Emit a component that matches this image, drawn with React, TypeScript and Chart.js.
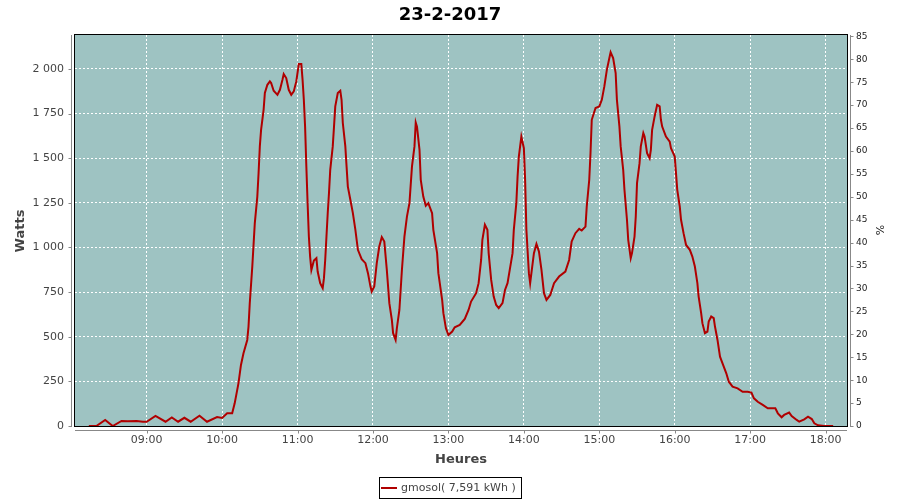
import React, { useEffect, useRef } from "react";
import { Chart, registerables } from "chart.js";

Chart.register(...registerables);

const TITLE = "23-2-2017";
const X_TITLE = "Heures";
const Y_TITLE = "Watts";
const Y2_TITLE = "%";
const LEGEND_LABEL = "gmosol( 7,591 kWh )";

// minutes since midnight
const times: number[] = [
  494, 500, 507, 513, 520, 525, 532, 537, 540, 547, 555, 560, 565, 570, 575, 582, 588, 596, 600, 604,
  608, 610, 613, 615, 617, 620, 621, 622, 624, 626, 628, 629, 630, 631, 633, 634, 636, 638, 639, 641,
  644, 646, 648, 649, 651, 653, 655, 657, 659, 661, 663, 664, 665, 666, 667, 668, 669, 670, 671, 673,
  675, 676, 678, 680, 681, 682, 683, 684, 685, 686, 688, 689, 690, 692, 694, 695, 696, 698, 699, 700,
  702, 704, 706, 708, 711, 714, 716, 718, 719, 721, 723, 725, 727, 729, 731, 733, 735, 736, 738, 739,
  741, 743, 745, 747, 749, 751, 753, 754, 755, 757, 758, 760, 762, 764, 767, 768, 771, 772, 775, 776,
  778, 780, 783, 785, 789, 793, 796, 798, 802, 804, 806, 807, 809, 811, 812, 814, 816, 818, 820, 823,
  825, 827, 829, 831, 832, 834, 835, 836, 838, 840, 841, 842, 844, 845, 846, 848, 850, 852, 854, 856,
  858, 861, 864, 868, 873, 876, 878, 881, 884, 886, 889, 890, 892, 893, 894, 897, 900, 902, 904, 906,
  908, 909, 911, 913, 914, 916, 917, 919, 920, 922, 923, 925, 926, 928, 929, 930, 932, 933, 935, 936,
  938, 940, 941, 942, 944, 946, 948, 949, 950, 953, 956, 957, 960, 961, 962, 964, 965, 967, 969, 972,
  974, 976, 978, 979, 981, 982, 984, 986, 987, 989, 991, 992, 994, 996, 998, 1001, 1003, 1006, 1010, 1014,
  1018, 1021, 1023, 1026, 1030, 1034, 1040, 1042, 1045, 1047, 1051, 1053, 1057, 1059, 1063, 1066, 1069, 1071, 1074, 1079,
  1086,
];

const watts: number[] = [
  0, 0, 34, 0, 28, 26, 28, 24, 24, 56, 24, 48, 24, 46, 24, 58, 24, 50, 45, 71,
  71, 127, 239, 342, 407, 482, 557, 688, 893, 1136, 1285, 1416, 1566, 1659, 1771, 1865, 1911, 1930, 1921, 1878,
  1855, 1883, 1939, 1971, 1949, 1883, 1855, 1874, 1930, 2027, 2027, 1939, 1827, 1677, 1453, 1248, 1061, 949, 874, 927,
  940, 865, 800, 772, 828, 930, 1061, 1192, 1304, 1435, 1566, 1677, 1790, 1865, 1878, 1827, 1697, 1566, 1453, 1341,
  1267, 1192, 1099, 987, 934, 912, 856, 781, 753, 781, 912, 1005, 1058, 1033, 874, 688, 594, 520, 482, 548,
  650, 874, 1061, 1173, 1248, 1453, 1566, 1700, 1677, 1547, 1379, 1285, 1233, 1248, 1192, 1099, 968, 856, 706, 632,
  548, 510, 529, 553, 566, 600, 650, 697, 744, 800, 930, 1043, 1127, 1099, 968, 818, 725, 678, 660, 688,
  762, 800, 884, 968, 1099, 1248, 1397, 1509, 1621, 1556, 1379, 1099, 856, 800, 856, 968, 1020, 977, 874, 744,
  706, 734, 800, 837, 865, 930, 1033, 1080, 1104, 1095, 1117, 1229, 1379, 1528, 1715, 1781, 1790, 1827, 1902, 1995,
  2061, 2093, 2061, 1977, 1827, 1677, 1566, 1435, 1323, 1155, 1043, 940, 968, 1061, 1173, 1360, 1472, 1566, 1641, 1621,
  1528, 1500, 1547, 1659, 1734, 1799, 1790, 1715, 1677, 1621, 1593, 1556, 1509, 1416, 1323, 1229, 1155, 1080, 1014, 987,
  949, 893, 800, 725, 632, 576, 520, 529, 585, 613, 604, 557, 482, 388, 351, 295, 248, 220, 211, 192,
  192, 187, 155, 136, 118, 99, 99, 71, 49, 62, 75, 56, 34, 24, 37, 52, 39, 15, 4, 0,
  0,
];

const xTickMinutes: number[] = [540, 600, 660, 720, 780, 840, 900, 960, 1020, 1080];
const yTicks: number[] = [0, 250, 500, 750, 1000, 1250, 1500, 1750, 2000];
const y2Ticks: number[] = [0, 5, 10, 15, 20, 25, 30, 35, 40, 45, 50, 55, 60, 65, 70, 75, 80, 85];

const X_MIN = 483;
const X_MAX = 1097;
const Y_MAX = 2190;
const Y2_MAX = 85.3;

const LINE_COLOR = "#b00000";
const PLOT_BG = "#9ec3c2";
const AXIS_GRAY = "#888888";
const TEXT = "#444444";
const FONT = "'DejaVu Sans', sans-serif";

function fmtTime(m: number): string {
  const h = Math.floor(m / 60);
  const mm = m % 60;
  return String(h).padStart(2, "0") + ":" + String(mm).padStart(2, "0");
}
function fmtThousands(v: number): string {
  return String(v).replace(/\B(?=(\d{3})+(?!\d))/g, " ");
}

const decorPlugin = {
  id: "decor",
  beforeDraw(chart: any) {
    const { ctx, chartArea: a } = chart;
    ctx.save();
    ctx.fillStyle = "#ffffff";
    ctx.fillRect(0, 0, chart.width, chart.height);
    ctx.fillStyle = PLOT_BG;
    ctx.fillRect(a.left, a.top, a.right - a.left, a.bottom - a.top);
    ctx.restore();
  },
  afterDraw(chart: any) {
    const { ctx, chartArea: a, scales } = chart;
    ctx.save();
    // plot border
    ctx.strokeStyle = "#000000";
    ctx.lineWidth = 1;
    ctx.strokeRect(Math.round(a.left) - 0.5, Math.round(a.top) - 0.5, Math.round(a.right - a.left) + 1, Math.round(a.bottom - a.top) + 1);

    // offset axis lines
    ctx.strokeStyle = AXIS_GRAY;
    ctx.beginPath();
    const lx = Math.round(a.left) - 3.5;
    ctx.moveTo(lx, a.top);
    ctx.lineTo(lx, a.bottom + 1);
    for (const v of yTicks) {
      const y = Math.round(scales.y.getPixelForValue(v)) + 0.5;
      ctx.moveTo(lx - 3, y);
      ctx.lineTo(lx, y);
    }
    const rx = Math.round(a.right) + 3.5;
    ctx.moveTo(rx, a.top);
    ctx.lineTo(rx, a.bottom + 1);
    for (const v of y2Ticks) {
      const y = Math.round(scales.y1.getPixelForValue(v)) + 0.5;
      ctx.moveTo(rx, y);
      ctx.lineTo(rx + 3, y);
    }
    const by = Math.round(a.bottom) + 4.5;
    ctx.moveTo(a.left, by);
    ctx.lineTo(a.right, by);
    for (const v of xTickMinutes) {
      const x = Math.round(scales.x.getPixelForValue(v)) + 0.5;
      ctx.moveTo(x, by);
      ctx.lineTo(x, by + 3);
    }
    ctx.stroke();

    // title
    ctx.fillStyle = "#000000";
    ctx.font = "bold 18px " + FONT;
    ctx.textAlign = "center";
    ctx.textBaseline = "middle";
    ctx.fillText(TITLE, 450, 15);

    // axis titles
    ctx.fillStyle = TEXT;
    ctx.font = "bold 13px " + FONT;
    ctx.fillText(X_TITLE, 461, 460);
    ctx.save();
    ctx.translate(21, 231);
    ctx.rotate(-Math.PI / 2);
    ctx.fillText(Y_TITLE, 0, 0);
    ctx.restore();
    ctx.save();
    ctx.fillStyle = "#222222";
    ctx.font = "11px " + FONT;
    ctx.translate(881, 230);
    ctx.rotate(-Math.PI / 2);
    ctx.fillText(Y2_TITLE, 0, 0);
    ctx.restore();

    // legend
    ctx.strokeStyle = "#000000";
    ctx.lineWidth = 1;
    ctx.strokeRect(379.5, 477.5, 142, 21);
    ctx.strokeStyle = LINE_COLOR;
    ctx.lineWidth = 2;
    ctx.beginPath();
    ctx.moveTo(381, 488);
    ctx.lineTo(397, 488);
    ctx.stroke();
    ctx.fillStyle = TEXT;
    ctx.font = "11px " + FONT;
    ctx.textAlign = "left";
    ctx.textBaseline = "middle";
    ctx.fillText(LEGEND_LABEL, 401, 488.5);
    ctx.restore();
  },
};

export default function App() {
  const ref = useRef<HTMLCanvasElement | null>(null);

  useEffect(() => {
    if (!ref.current) return;
    const points = times.map((t, i) => ({ x: t, y: watts[i] }));
    const chart = new Chart(ref.current, {
      type: "line",
      data: {
        datasets: [
          {
            label: LEGEND_LABEL,
            data: points,
            borderColor: LINE_COLOR,
            backgroundColor: LINE_COLOR,
            borderWidth: 2,
            pointRadius: 0,
            tension: 0,
            fill: false,
            yAxisID: "y",
          },
        ],
      },
      options: {
        animation: false,
        responsive: false,
        maintainAspectRatio: false,
        devicePixelRatio: 1,
        layout: { padding: { top: 35, left: 0, right: 0, bottom: 0 } },
        plugins: {
          legend: { display: false },
          title: { display: false },
          tooltip: { enabled: false },
        },
        scales: {
          x: {
            type: "linear",
            min: X_MIN,
            max: X_MAX,
            afterBuildTicks: (s: any) => {
              s.ticks = xTickMinutes.map((v) => ({ value: v }));
            },
            afterFit: (s: any) => {
              s.height = 74;
            },
            grid: { color: "#ffffff", lineWidth: 1, drawTicks: false },
            border: { display: false, dash: [2, 2] },
            ticks: {
              color: TEXT,
              font: { family: FONT, size: 11 },
              padding: 8,
              maxRotation: 0,
              autoSkip: false,
              callback: (v: any) => fmtTime(Number(v)),
            },
          },
          y: {
            type: "linear",
            position: "left",
            min: 0,
            max: Y_MAX,
            afterBuildTicks: (s: any) => {
              s.ticks = yTicks.map((v) => ({ value: v }));
            },
            afterFit: (s: any) => {
              s.width = 75;
            },
            grid: { color: "#ffffff", lineWidth: 1, drawTicks: false },
            border: { display: false, dash: [2, 2] },
            ticks: {
              color: TEXT,
              font: { family: FONT, size: 11 },
              padding: 11,
              autoSkip: false,
              callback: (v: any) => fmtThousands(Number(v)),
            },
          },
          y1: {
            type: "linear",
            position: "right",
            min: 0,
            max: Y2_MAX,
            afterBuildTicks: (s: any) => {
              s.ticks = y2Ticks.map((v) => ({ value: v }));
            },
            afterFit: (s: any) => {
              s.width = 53;
            },
            grid: { drawOnChartArea: false, drawTicks: false },
            border: { display: false },
            ticks: {
              color: "#222222",
              font: { family: FONT, size: 9 },
              padding: 9,
              autoSkip: false,
              callback: (v: any) => String(v),
            },
          },
        },
      },
      plugins: [decorPlugin],
    });
    return () => chart.destroy();
  }, []);

  return (
    <div style={{ position: "fixed", left: 0, top: 0, width: 900, height: 500, background: "#ffffff" }}>
      <canvas ref={ref} width={900} height={500} style={{ width: 900, height: 500, display: "block" }} />
    </div>
  );
}
